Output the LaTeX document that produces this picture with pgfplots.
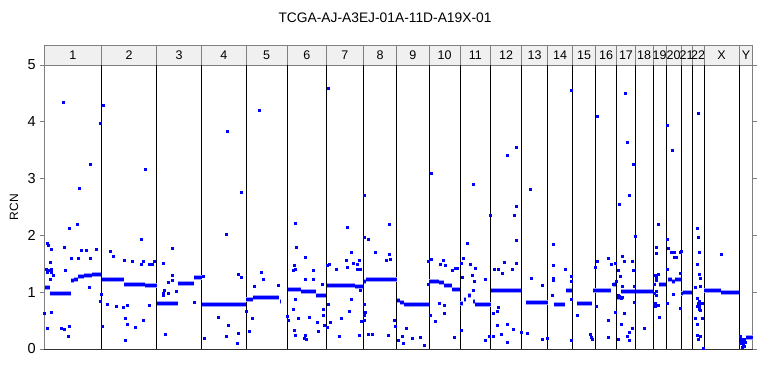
\documentclass[border=0pt]{standalone}
\usepackage{fontspec}
\setmainfont{Liberation Sans}
\usepackage{pgfplots}
\pgfplotsset{compat=1.18}
\definecolor{stripfill}{HTML}{F0F0F0}
\definecolor{framegray}{HTML}{7F7F7F}
\definecolor{ptblue}{HTML}{0000FF}
\definecolor{halo}{HTML}{9A9AFF}
\begin{document}
\begin{tikzpicture}[x=1pt,y=1pt]
\useasboundingbox (0,0) rectangle (768,384);
\node[font=\fontsize{13.8}{16}\selectfont] at (385,366.5) {TCGA-AJ-A3EJ-01A-11D-A19X-01};
\node[rotate=90,font=\fontsize{12}{14}\selectfont] at (14,177) {RCN};
\begin{axis}[
  at={(44.3pt,35pt)}, anchor=south west,
  width=708.4pt, height=284pt, scale only axis,
  xmin=44.3, xmax=752.7, ymin=0, ymax=5,
  xtick=\empty, ytick={0,1,2,3,4,5},
  ytick pos=both, yticklabel pos=left, tick align=outside,
  major tick length=4pt,
  tick style={framegray, line width=0.8pt},
  axis line style={framegray, line width=0.8pt},
  yticklabel style={font=\fontsize{14.5}{16}\selectfont, xshift=-1pt},
  /pgf/number format/assume math mode=true,
  clip=false,
  unbounded coords=jump,
]
\foreach \a/\b/\l in {44.3/101.3/1,101.3/156.7/2,156.7/201.7/3,201.7/246/4,246/287.3/5,287.3/326.3/6,326.3/363.3/7,363.3/396.7/8,396.7/429/9,429/460/10,460/490.7/11,490.7/521.3/12,521.3/547.7/13,547.7/572.3/14,572.3/595.7/15,595.7/616.7/16,616.7/635.3/17,635.3/653/18,653/666.3/19,666.3/681/20,681/692/21,692/704/22,704/739.3/X,739.3/752.7/Y}{
  \edef\temp{\noexpand\draw[fill=stripfill, draw=framegray, line width=0.8pt] (axis cs:\a,5) rectangle (axis cs:\b,5.352);
  \noexpand\node[font=\noexpand\fontsize{12.5}{14}\noexpand\selectfont, inner sep=0pt] at (axis cs:{(\a+\b)/2},5.176) {\l};}
  \temp
}
\foreach \b in {101.3,156.7,201.7,246,287.3,326.3,363.3,396.7,429,460,490.7,521.3,547.7,572.3,595.7,616.7,635.3,653,666.3,681,692,704,739.3}{
  \edef\temp{\noexpand\draw[black, line width=0.9pt] (axis cs:\b,0) -- (axis cs:\b,5);}
  \temp
}
\draw[black!80, line width=1pt] (axis cs:44.3,0) -- (axis cs:752.7,0);
% segments
\addplot[halo, line width=5pt, no marks] coordinates {
(44.5,1.08)(49.5,1.08)(nan,nan)
(49.5,0.98)(70.5,0.98)(nan,nan)
(70.5,1.20)(74,1.20)(nan,nan)(74,1.23)(78,1.23)(nan,nan)(78,1.27)(84,1.27)(nan,nan)(84,1.29)(92,1.29)(nan,nan)(92,1.31)(101,1.31)(nan,nan)
(101.5,1.22)(124,1.22)(nan,nan)(124,1.13)(145,1.13)(nan,nan)(145,1.12)(156.5,1.12)(nan,nan)
(156.8,0.80)(177.7,0.80)(nan,nan)(177.7,1.16)(193.7,1.16)(nan,nan)(194.3,1.26)(201.5,1.26)(nan,nan)
(202.3,0.79)(245.5,0.79)(nan,nan)
(246.2,0.87)(252.5,0.87)(nan,nan)(252.5,0.90)(279,0.90)(nan,nan)(279.5,0.84)(280.5,0.84)(nan,nan)
(287.8,1.04)(301,1.04)(nan,nan)(301,1.02)(316,1.02)(nan,nan)(316,0.94)(325.5,0.94)(nan,nan)
(326.6,1.11)(355,1.11)(nan,nan)(355,1.10)(362.8,1.10)(nan,nan)
(363.8,1.19)(366,1.19)(nan,nan)(366,1.23)(396.5,1.23)(nan,nan)
(397,0.85)(400,0.85)(nan,nan)(400,0.81)(404,0.81)(nan,nan)(404,0.79)(428.5,0.79)(nan,nan)
(429.3,1.19)(439,1.19)(nan,nan)(439,1.17)(444,1.17)(nan,nan)(444,1.12)(452,1.12)(nan,nan)(452,1.05)(459.7,1.05)(nan,nan)
(460.3,0.80)(462.5,0.80)(nan,nan)(463.5,0.88)(465.5,0.88)(nan,nan)(468,0.95)(471,0.95)(nan,nan)(473,0.84)(474.5,0.84)(nan,nan)(474.5,0.79)(490.5,0.79)(nan,nan)
(491,1.03)(521,1.03)(nan,nan)
(525.5,0.82)(547.5,0.82)(nan,nan)
(553.7,0.79)(565,0.79)(nan,nan)(566,1.03)(572,1.03)(nan,nan)
(576.5,0.80)(591.8,0.80)(nan,nan)
(592.5,1.03)(610.7,1.03)(nan,nan)(612.5,1.14)(615.5,1.14)(nan,nan)
(617,0.91)(621,0.91)(nan,nan)(621,1.01)(635,1.01)(nan,nan)
(635.5,1.01)(653,1.01)(nan,nan)
(658.5,1.14)(666,1.14)(nan,nan)
(667.5,1.23)(672,1.23)(nan,nan)(672,1.19)(675,1.19)(nan,nan)(675,1.23)(680.5,1.23)(nan,nan)
(681.2,0.97)(683,0.97)(nan,nan)(683,1.00)(692,1.00)(nan,nan)
(704.3,1.03)(721,1.03)(nan,nan)(721,0.99)(739,0.99)(nan,nan)
(746,0.21)(752.5,0.21)
};
\addplot[ptblue, line width=3pt, no marks] coordinates {
(44.5,1.08)(49.5,1.08)(nan,nan)
(49.5,0.98)(70.5,0.98)(nan,nan)
(70.5,1.20)(74,1.20)(nan,nan)(74,1.23)(78,1.23)(nan,nan)(78,1.27)(84,1.27)(nan,nan)(84,1.29)(92,1.29)(nan,nan)(92,1.31)(101,1.31)(nan,nan)
(101.5,1.22)(124,1.22)(nan,nan)(124,1.13)(145,1.13)(nan,nan)(145,1.12)(156.5,1.12)(nan,nan)
(156.8,0.80)(177.7,0.80)(nan,nan)(177.7,1.16)(193.7,1.16)(nan,nan)(194.3,1.26)(201.5,1.26)(nan,nan)
(202.3,0.79)(245.5,0.79)(nan,nan)
(246.2,0.87)(252.5,0.87)(nan,nan)(252.5,0.90)(279,0.90)(nan,nan)(279.5,0.84)(280.5,0.84)(nan,nan)
(287.8,1.04)(301,1.04)(nan,nan)(301,1.02)(316,1.02)(nan,nan)(316,0.94)(325.5,0.94)(nan,nan)
(326.6,1.11)(355,1.11)(nan,nan)(355,1.10)(362.8,1.10)(nan,nan)
(363.8,1.19)(366,1.19)(nan,nan)(366,1.23)(396.5,1.23)(nan,nan)
(397,0.85)(400,0.85)(nan,nan)(400,0.81)(404,0.81)(nan,nan)(404,0.79)(428.5,0.79)(nan,nan)
(429.3,1.19)(439,1.19)(nan,nan)(439,1.17)(444,1.17)(nan,nan)(444,1.12)(452,1.12)(nan,nan)(452,1.05)(459.7,1.05)(nan,nan)
(460.3,0.80)(462.5,0.80)(nan,nan)(463.5,0.88)(465.5,0.88)(nan,nan)(468,0.95)(471,0.95)(nan,nan)(473,0.84)(474.5,0.84)(nan,nan)(474.5,0.79)(490.5,0.79)(nan,nan)
(491,1.03)(521,1.03)(nan,nan)
(525.5,0.82)(547.5,0.82)(nan,nan)
(553.7,0.79)(565,0.79)(nan,nan)(566,1.03)(572,1.03)(nan,nan)
(576.5,0.80)(591.8,0.80)(nan,nan)
(592.5,1.03)(610.7,1.03)(nan,nan)(612.5,1.14)(615.5,1.14)(nan,nan)
(617,0.91)(621,0.91)(nan,nan)(621,1.01)(635,1.01)(nan,nan)
(635.5,1.01)(653,1.01)(nan,nan)
(658.5,1.14)(666,1.14)(nan,nan)
(667.5,1.23)(672,1.23)(nan,nan)(672,1.19)(675,1.19)(nan,nan)(675,1.23)(680.5,1.23)(nan,nan)
(681.2,0.97)(683,0.97)(nan,nan)(683,1.00)(692,1.00)(nan,nan)
(704.3,1.03)(721,1.03)(nan,nan)(721,0.99)(739,0.99)(nan,nan)
(746,0.21)(752.5,0.21)
};
% outlier points
\addplot[ptblue, only marks, mark=square*, mark size=1pt, mark options={ptblue, draw=none, fill=ptblue}] coordinates {
(63,4.35)(100,3.97)(89.7,3.25)(79,2.83)(69.3,2.12)(77.3,2.19)(47.3,1.86)(51.3,1.76)(63.7,1.79)(81.3,1.74)(86.3,1.74)(95.7,1.76)(70.7,1.60)(78.3,1.60)(90.3,1.60)(49.7,1.53)(51.3,1.41)(47.3,1.35)(51,1.36)(53.3,1.30)(65.3,1.38)(50.3,1.23)(89.3,1.08)(44.5,0.63)(50.7,0.64)(47.3,0.36)(60.7,0.36)(64,0.34)(68.7,0.40)(68.3,0.23)(100.7,0.96)(100.3,0.85)(48,1.83)(49,1.38)(46.5,1.40)
(101.7,0.41)(102.7,4.29)(145,3.16)(141.3,1.93)(110.3,1.73)(113.3,1.64)(123.7,1.56)(132.3,1.54)(141.3,1.50)(143.3,1.54)(149,1.50)(152.3,1.50)(154.3,1.55)(106.7,0.79)(116.3,0.75)(123.3,0.73)(127.3,0.77)(125.3,0.54)(127,0.43)(134.7,0.38)(125.3,0.15)(143,0.51)(149,0.77)
(172,1.77)(163.3,1.51)(172.3,1.30)(171.7,1.22)(168.3,1.18)(164,1.04)(163.3,0.99)(168.3,0.99)(176,1.02)(194,0.82)(165.3,0.26)(163,0.95)
(203,1.28)(227,3.83)(241.3,2.76)(226,2.02)(238.3,1.31)(241.3,1.26)(217.7,0.56)(228.3,0.42)(237.7,0.28)(226.3,0.22)(237.3,0.10)(203.7,0.19)
(245.9,0.66)(259,4.20)(261,1.36)(263,1.23)(254.3,1.11)(278.3,1.13)(252.3,0.55)(248.7,0.32)(286.7,0.57)
(294.7,2.21)(296,1.79)(305,1.62)(294.3,1.47)(295,1.41)(293.3,1.38)(313,1.39)(304.7,1.23)(312.7,1.23)(322.3,1.14)(294.7,0.87)(293.3,0.70)(297.7,0.55)(309,0.56)(317,0.48)(288.3,0.50)(323.3,0.70)(324.3,0.42)(294.3,0.33)(294.7,0.25)(305,0.24)(304.3,0.19)(318,0.31)(323,0.60)(306,0.17)
(326.8,0.38)(327.7,4.60)(347,2.15)(329.3,1.50)(336.3,1.41)(346,1.57)(347,1.44)(327.7,0.79)(341,0.55)(329.7,0.48)(338.7,0.22)(351.3,1.71)(353,1.51)(357.3,1.50)(359.3,1.57)(357,1.41)(359.7,1.40)(350.7,0.88)(348.7,0.67)(359,0.24)(359.7,1.03)(327,1.47)
(363.7,2.71)(364.3,1.97)(368.3,1.93)(389.3,2.19)(375.3,1.70)(389.3,1.67)(389.7,1.58)(386.3,1.56)(364.3,0.79)(365.3,0.65)(363.7,0.60)(363.7,0.51)(361.3,0.49)(367.7,0.26)(371.7,0.26)(388.3,0.25)(393.7,0.50)(394.7,0.41)
(406,0.36)(402,0.23)(412.3,0.19)(420.3,0.21)(424.3,0.07)(398.3,0.16)(402.7,0.11)(428,1.54)(427.7,1.14)
(431.3,3.10)(431.3,1.58)(443,1.57)(440.3,1.50)(444.7,1.48)(438.7,0.80)(444,0.77)(444,0.63)(435.3,0.49)(452,1.38)(454.7,1.43)(456.7,1.43)(454.3,0.21)(430,0.60)
(460.7,1.51)(473.3,2.90)(463.3,1.60)(467.3,1.87)(474.7,1.43)(462,1.26)(472.3,1.30)(474.3,1.19)(484.7,1.23)(473.3,1.04)(460.7,0.33)(485.3,0.15)(489.3,0.22)(490,2.36)(470,1.50)
(516,3.55)(507.3,3.41)(516.3,2.52)(513.7,2.35)(516.3,1.91)(516.3,1.51)(504,1.53)(493.7,1.41)(498,1.41)(502.3,1.33)(511.7,1.41)(498,0.73)(493.3,0.63)(497,0.67)(497.3,0.42)(507,0.44)(513.3,0.35)(501.3,0.26)(507,0.12)(493,0.22)(520.7,0.29)
(530.3,2.82)(531,1.25)(542.3,1.13)(526.7,0.28)(542,0.18)(546.7,0.19)
(571.3,4.56)(553,1.84)(553.3,1.48)(565,1.40)(552.7,1.24)(553.3,1.21)(551.7,0.94)(571.3,1.29)(571.3,1.20)(571.3,0.87)(571.3,0.16)
(577.3,0.59)(590,0.26)(590.7,0.21)(591.7,0.17)(594.7,1.44)(596.7,1.55)
(597.3,4.09)(608.3,1.59)(611.3,1.49)(615.3,1.51)(608.3,0.50)(608.3,0.21)(595.7,0.75)(615.7,1.19)(615,0.64)(613.3,1.14)
(625.3,4.51)(627.3,3.64)(632.7,3.26)(629,2.70)(619,2.55)(622,1.64)(624,1.54)(631.7,1.54)(618,1.39)(620,1.28)(622,1.10)(621.7,0.92)(620.7,0.89)(624.3,0.63)(620.7,0.44)(629,0.29)(626.7,0.23)(629.3,0.15)(631.7,0.36)(617.7,0.17)(634.7,1.98)(634.3,1.10)(634.3,0.82)(633.3,1.39)(616,1.20)(618.5,0.95)(619.5,0.93)
(643.7,0.37)
(658.3,2.19)(655.7,1.79)(656.3,1.68)(654.7,1.30)(655.7,1.26)(658.3,1.31)(656,1.02)(653.7,0.98)(654,0.79)(657.7,0.78)(654.7,0.76)(659.3,0.56)(653.7,1.14)(656.3,1.21)(656.3,0.94)(655,0.80)
(666.7,3.94)(671.7,3.50)(667.3,1.94)(667.7,1.77)(670.7,1.70)(674.3,1.70)(674,1.61)(676.3,1.61)(680,1.71)(667.3,1.41)(672.7,0.96)(667.3,0.80)(680,0.72)
(681,1.72)(680,1.33)(680.3,0.72)
(697.7,4.15)(696.7,2.13)(697.7,1.97)(699,1.71)(699,1.31)(699.7,1.25)(700,1.10)(695.3,1.09)(696.7,0.89)(699,0.85)(697.7,0.80)(700,0.80)(701.7,0.80)(698.5,0.78)(699.5,0.76)(696.7,0.75)(699.3,0.70)(700.5,0.68)(695.3,0.54)(701.7,0.55)(696.7,0.44)(696.7,0.24)(700,0.22)(698.3,0.17)(702.7,0.01)(697,1.5)
(721,1.67)
(740,0.22)(741,0.18)(741.5,0.12)(742.5,0.15)(743,0.08)(744,0.05)(742,0.03)(743.5,0.1)(745,0.12)(744.5,0.17)(740.5,0.1)
};
\end{axis}
\end{tikzpicture}
\end{document}
